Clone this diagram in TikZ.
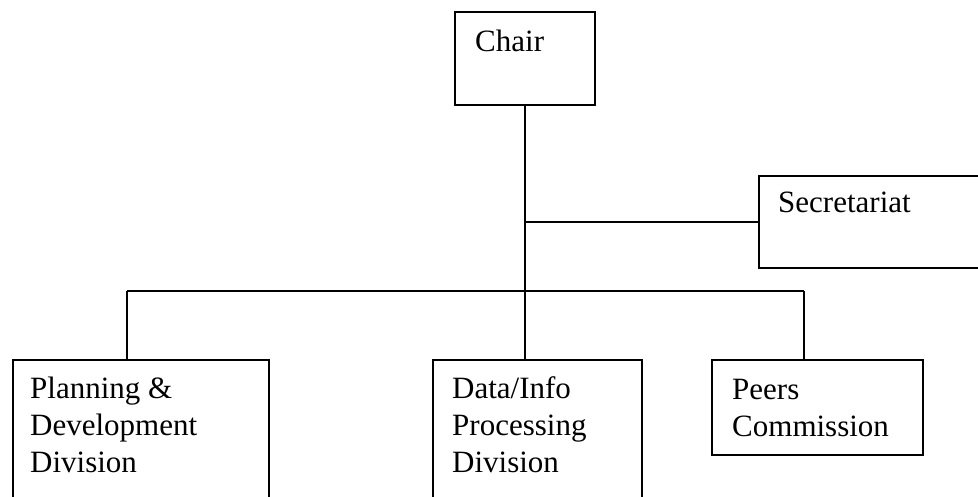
\documentclass[tikz,border=0pt]{standalone}
\usepackage{fontspec}
\setmainfont{Liberation Serif}
\begin{document}
\begin{tikzpicture}[x=1pt,y=-1pt,
  box/.style={draw=black,line width=1.6pt,rectangle,inner sep=0pt},
  lbl/.style={anchor=base west,align=left,inner sep=0pt,font=\fontsize{31}{37}\selectfont},
  conn/.style={draw=black,line width=1.6pt}]
\useasboundingbox (0,0) rectangle (978,497);
\clip (0,0) rectangle (978,497);
\fill[white] (0,0) rectangle (978,497);
% boxes
\node[box,anchor=north west,minimum width=140pt,minimum height=93pt] (chair) at (454,11) {};
\node[box,anchor=north west,minimum width=240pt,minimum height=92pt] (secr) at (758,175) {};
\node[box,anchor=north west,minimum width=256pt,minimum height=160pt] (plan) at (12,359) {};
\node[box,anchor=north west,minimum width=209pt,minimum height=160pt] (data) at (432,359) {};
\node[box,anchor=north west,minimum width=211pt,minimum height=95pt] (peers) at (711,359) {};
% labels (base anchor = last line)
\node[lbl] (chairT) at (475,52) {Chair};
\node[lbl] (secrT) at (778,213) {Secretariat};
\node[lbl] (planT) at (30,472) {Planning \&\\Development\\Division};
\node[lbl] (dataT) at (452,472) {Data/Info\\Processing\\Division};
\node[lbl] (peersT) at (732,436) {Peers\\Commission};
% connector points
\coordinate (bar) at (525,291);
\coordinate (barL) at (127,291);
\coordinate (barR) at (804,291);
% connectors
\draw[conn] (chair.south -| bar) -- (bar);
\draw[conn] (bar |- secr.west) -- (secr.west);
\draw[conn] (barL) -- (barR);
\draw[conn] (barL) -- (barL |- plan.north);
\draw[conn] (bar) -- (bar |- data.north);
\draw[conn] (barR) -- (barR |- peers.north);
\end{tikzpicture}
\end{document}
